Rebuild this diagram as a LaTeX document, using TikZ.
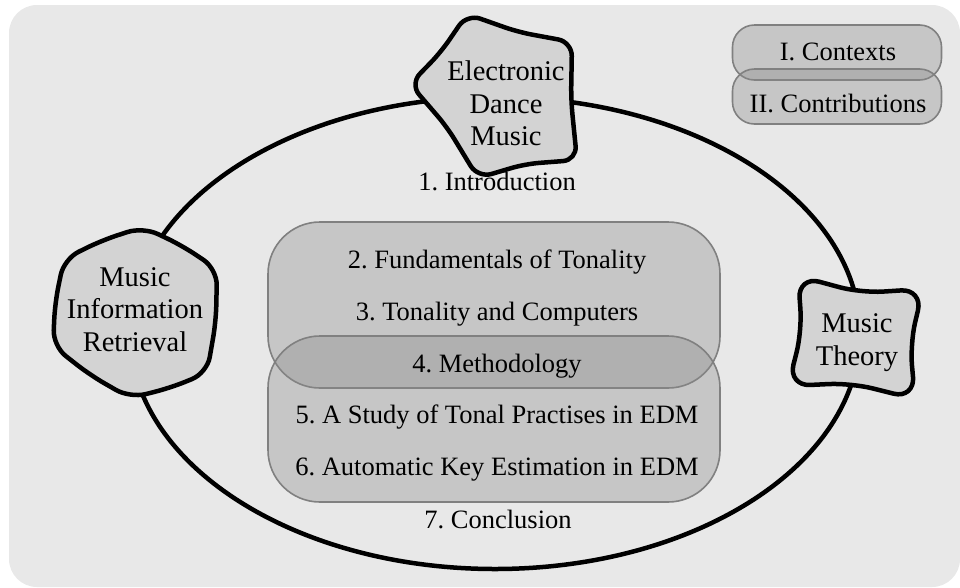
\documentclass[tikz,border=0pt]{standalone}
\usepackage{fontspec}
\setmainfont{Liberation Serif}
\frenchspacing
\definecolor{bgcol}{HTML}{E8E8E8}
\definecolor{blobcol}{HTML}{D3D3D3}

\begin{document}
\begin{tikzpicture}[x=1pt,y=-1pt,
  blob/.style={draw=black,line width=4.5pt,fill=blobcol,rounded corners=14pt},
  part/.style={draw=gray,line width=1.6pt,fill=black!46,fill opacity=.36,rounded corners=52pt,minimum width=452pt,minimum height=166pt,inner sep=0pt},
  tag/.style={part,rounded corners=22pt,minimum width=209pt,minimum height=55pt},
  chap/.style={anchor=base,font=\fontsize{26.5}{32}\selectfont},
  field/.style={anchor=base,align=center,font=\fontsize{28.5}{32.5}\selectfont}]
\useasboundingbox (0,0) rectangle (960,587);
\fill[bgcol,rounded corners=28pt] (9,5) rectangle (960,587);
\draw[line width=4.5pt] (495,333) ellipse [x radius=365,y radius=236];
% the two parts of the thesis
\node[part] (contexts) at (494,305) {};
\node[part] (contribs) at (494,419) {};
\node[tag] (ctxkey) at (837,52.5) {};
\node[tag] (conkey) at (837,96.5) {};
\node[chap] (ctxlabel) at (838,60) {I. Contexts};
\node[chap] (conlabel) at (838,112) {II. Contributions};
% chapters
\node[chap] (intro) at (497,190) {1. Introduction};
\node[chap] (fund) at (497,268) {2. Fundamentals of Tonality};
\node[chap] (tonc) at (497,320) {3. Tonality and Computers};
\node[chap] (meth) at (497,372) {4. Methodology};
\node[chap] (study) at (497,423) {5. A Study of Tonal Practises in EDM};
\node[chap] (keyest) at (497,475) {6. Automatic Key Estimation in EDM};
\node[chap] (concl) at (498,528) {7. Conclusion};
% fields
\draw[blob] (441,52) -- (467,14) -- (518,32) -- (572,42) -- (571,100) -- (577,160)
  -- (525,164) -- (478,178) -- (447,127) -- (410,84) -- cycle;
\draw[blob,rounded corners=16pt] (182,245.5) -- (217,269) -- (216,321) -- (207,373) -- (170,388)
  -- (130,398) -- (90,375) -- (53,346) -- (55,303) -- (64,259) -- (102,240.3) -- (143,227) -- cycle;
\draw[blob,rounded corners=22pt] (861,293) -- (923,289) -- (910,344) -- (915,399) -- (851,383)
  -- (788,386) -- (802,331) -- (798,276) -- cycle;
\node[field] (edm) at (506,145.5) {Electronic\\Dance\\Music};
\node[field] (mir) at (135,351) {Music\\Information\\Retrieval};
\node[field] (theory) at (857,365) {Music\\Theory};
\end{tikzpicture}
\end{document}
